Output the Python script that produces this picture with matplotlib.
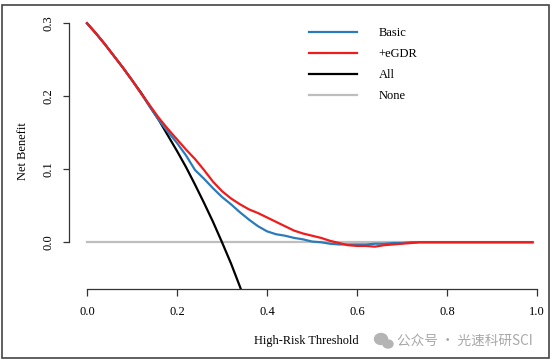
import numpy as np
import matplotlib
matplotlib.use("Agg")
import matplotlib.pyplot as plt
from matplotlib.patches import Rectangle, Ellipse

# threshold grid and net benefit values
thresholds = [0.00, 0.02, 0.04, 0.06, 0.08, 0.10, 0.12, 0.14, 0.16, 0.18,
              0.20, 0.22, 0.24, 0.26, 0.28, 0.30, 0.32, 0.34, 0.36, 0.38,
              0.40, 0.42, 0.44, 0.46, 0.48, 0.50, 0.52, 0.54, 0.56, 0.58,
              0.60, 0.62, 0.64, 0.66, 0.68, 0.70, 0.72, 0.74, 0.76, 0.80,
              0.90, 0.99]
nb_basic = [0.300, 0.286, 0.271, 0.255, 0.239, 0.222, 0.204, 0.185, 0.167, 0.151,
            0.136, 0.119, 0.099, 0.087, 0.074, 0.062, 0.052, 0.041, 0.031, 0.022,
            0.015, 0.011, 0.009, 0.006, 0.004, 0.001, 0.000, -0.002, -0.003, -0.003,
            -0.003, -0.003, -0.002, -0.002, -0.001, -0.001, 0.000, 0.000, 0.000, 0.000,
            0.000, 0.000]
nb_egdr = [0.300, 0.286, 0.271, 0.255, 0.239, 0.222, 0.204, 0.187, 0.170, 0.155,
           0.141, 0.127, 0.114, 0.099, 0.083, 0.070, 0.060, 0.052, 0.045, 0.040,
           0.034, 0.028, 0.022, 0.016, 0.012, 0.009, 0.006, 0.002, -0.001, -0.004,
           -0.005, -0.005, -0.006, -0.004, -0.003, -0.002, -0.001, 0.000, 0.000, 0.000,
           0.000, 0.000]
thr_all = [0.00, 0.02, 0.04, 0.06, 0.08, 0.10, 0.12, 0.14, 0.16, 0.18,
           0.20, 0.22, 0.24, 0.26, 0.28, 0.30, 0.32, 0.34, 0.36]
nb_all = [0.300, 0.286, 0.271, 0.255, 0.239, 0.222, 0.205, 0.186, 0.167, 0.146,
          0.125, 0.103, 0.079, 0.054, 0.028, 0.000, -0.029, -0.061, -0.094]
thr_none = [0.0, 0.99]
nb_none = [0.0, 0.0]

labels = ["Basic", "+eGDR", "All", "None"]
colors = ["#2b7bba", "#ee1c1c", "#000000", "#bebebe"]

plt.rcParams['font.family'] = ['Liberation Serif', 'DejaVu Serif']

fig = plt.figure(figsize=(5.6, 3.63), dpi=100)
ax = fig.add_axes([69/560, 1-289/363, 486/560, 276/363])

ax.plot(thr_none, nb_none, color=colors[3], lw=1.6, label=labels[3])
ax.plot(thr_all, nb_all, color=colors[2], lw=1.6, label=labels[2])
ax.plot(thresholds, nb_basic, color=colors[0], lw=1.6, label=labels[0])
ax.plot(thresholds, nb_egdr, color=colors[1], lw=1.6, label=labels[1])

ax.set_xlim(-0.04, 1.04)
ax.set_ylim(-0.064, 0.314)

for s in ['top', 'right']:
    ax.spines[s].set_visible(False)
ax.spines['left'].set_bounds(0, 0.3)
ax.spines['bottom'].set_bounds(0, 1)
for s in ['left', 'bottom']:
    ax.spines[s].set_color('#333333')
    ax.spines[s].set_linewidth(0.9)

ax.set_xticks([0, 0.2, 0.4, 0.6, 0.8, 1.0])
ax.set_xticklabels(["0.0", "0.2", "0.4", "0.6", "0.8", "1.0"])
ax.set_yticks([0.0, 0.1, 0.2, 0.3])
ax.set_yticklabels(["0.0", "0.1", "0.2", "0.3"], rotation=90, va='center')
ax.tick_params(axis='x', length=5, width=0.9, color='#333333', pad=7, labelsize=9)
ax.tick_params(axis='y', length=4.5, width=0.9, color='#333333', pad=6, labelsize=9)

ax.set_ylabel("Net Benefit", fontsize=9, labelpad=10)
fig.text(306/560, 1-341/363, "High-Risk Threshold", fontsize=8.8,
         ha='center', va='center')

h, l = ax.get_legend_handles_labels()
order = [2, 3, 1, 0]
ax.legend([h[i] for i in order], [l[i] for i in order], loc='upper left',
          bbox_to_anchor=(0.494, 0.949), frameon=False, fontsize=9,
          handlelength=3.8, handletextpad=1.75, labelspacing=0.72, borderpad=0,
          borderaxespad=0)

# outer frame
fig.patches.append(Rectangle((2/560, 1-358/363), 547/560, 353/363,
                             transform=fig.transFigure, fill=False,
                             edgecolor='#444444', linewidth=1.2))

# watermark
fig.patches.append(Ellipse((381/560, 1-339/363), 13/560, 11/363,
                           transform=fig.transFigure, color='#b4b4b4'))
fig.patches.append(Ellipse((388/560, 1-344/363), 10/560, 8/363,
                           transform=fig.transFigure, color='#b4b4b4'))
fig.text(397/560, 1-341/363, "公众号 · 光速科研SCI", fontsize=9.8,
         family=['Noto Sans CJK SC', 'DejaVu Sans'], color='#a8a8a8',
         va='center', ha='left')

fig.savefig("out.png", dpi=100)
